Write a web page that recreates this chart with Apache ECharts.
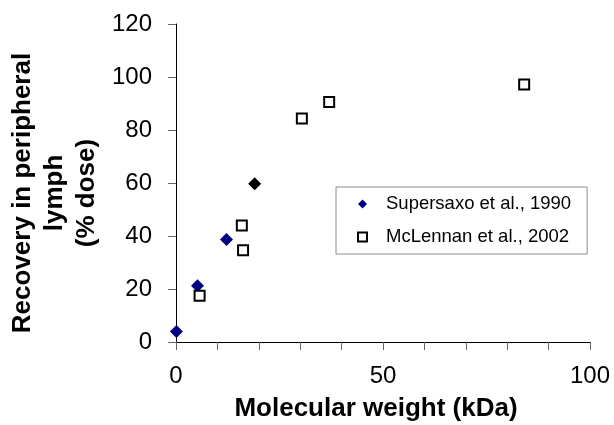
<!DOCTYPE html>
<html>
<head>
<meta charset="utf-8">
<script src="https://cdn.jsdelivr.net/npm/echarts@6/dist/echarts.min.js"></script>
<style>
  html, body { margin: 0; padding: 0; background: #fff; }
  #chart { width: 614px; height: 425px; }
</style>
</head>
<body>
<div id="chart"></div>
<script>
// Supersaxo et al., 1990 (molecular weight kDa, recovery % dose)
const supersaxoX = [0.1, 5.2, 12.2];
const supersaxoY = [4.0, 21.2, 38.7];
// the one point drawn as a black diamond
const blackX = [19.0];
const blackY = [59.7];
// McLennan et al., 2002
const mclennanX = [5.7, 15.9, 16.2, 30.4, 37.0, 84.1];
const mclennanY = [17.5, 44.0, 34.6, 84.3, 90.6, 97.2];

const xLabelValues = [0, 50, 100];
const seriesNames = ['Supersaxo et al., 1990', 'McLennan et al., 2002'];

const FONT = '"Liberation Sans", Arial, sans-serif';

const pairs = (xs, ys) => xs.map((x, i) => [x, ys[i]]);

const chart = echarts.init(document.getElementById('chart'));

const option = {
  animation: false,
  backgroundColor: '#fff',
  grid: { left: 176, right: 24, top: 24, bottom: 83 },
  xAxis: {
    type: 'value',
    min: 0,
    max: 100,
    interval: 10,
    splitLine: { show: false },
    axisLine: { lineStyle: { color: '#000', width: 1 } },
    axisTick: { length: 8, lineStyle: { color: '#666' } },
    axisLabel: {
      margin: 22,
      fontSize: 24,
      fontFamily: FONT,
      color: '#000',
      formatter: (v) => (xLabelValues.indexOf(v) >= 0 ? String(v) : '')
    }
  },
  yAxis: {
    type: 'value',
    min: 0,
    max: 120,
    interval: 20,
    splitLine: { show: false },
    axisLine: { lineStyle: { color: '#000', width: 1 } },
    axisTick: { length: 8, lineStyle: { color: '#666' } },
    axisLabel: { margin: 24, fontSize: 24, fontFamily: FONT, color: '#000' }
  },
  legend: {
    orient: 'vertical',
    left: 336,
    top: 187,
    data: seriesNames,
    selectedMode: false,
    itemWidth: 9,
    itemHeight: 9,
    itemGap: 13,
    padding: [7, 16, 7, 21],
    borderColor: '#8c8c8c',
    borderWidth: 1,
    textStyle: { fontFamily: FONT, fontSize: 18.5, color: '#000', lineHeight: 20, padding: [0, 0, 0, 14] }
  },
  graphic: [
    {
      type: 'text',
      x: 55,
      y: 193,
      rotation: Math.PI / 2,
      style: {
        text: 'Recovery in peripheral\nlymph\n(% dose)',
        fontFamily: FONT,
        fontWeight: 'bold',
        fontSize: 26,
        lineHeight: 32,
        fill: '#000',
        align: 'center',
        verticalAlign: 'middle'
      }
    },
    {
      type: 'text',
      x: 376,
      y: 409,
      style: {
        text: 'Molecular weight (kDa)',
        fontFamily: FONT,
        fontWeight: 'bold',
        fontSize: 26,
        fill: '#000',
        align: 'center',
        verticalAlign: 'middle'
      }
    }
  ],
  series: [
    {
      name: seriesNames[0],
      type: 'scatter',
      symbol: 'diamond',
      symbolSize: 13,
      itemStyle: { color: '#000080', opacity: 1 },
      data: pairs(supersaxoX, supersaxoY)
    },
    {
      name: seriesNames[1],
      type: 'scatter',
      symbol: 'rect',
      symbolSize: 10,
      itemStyle: { color: '#fff', borderColor: '#000', borderWidth: 2, opacity: 1 },
      data: pairs(mclennanX, mclennanY)
    },
    {
      name: 'highlight',
      type: 'scatter',
      symbol: 'diamond',
      symbolSize: 13,
      itemStyle: { color: '#000', opacity: 1 },
      data: pairs(blackX, blackY)
    }
  ]
};

chart.setOption(option);
</script>
</body>
</html>
